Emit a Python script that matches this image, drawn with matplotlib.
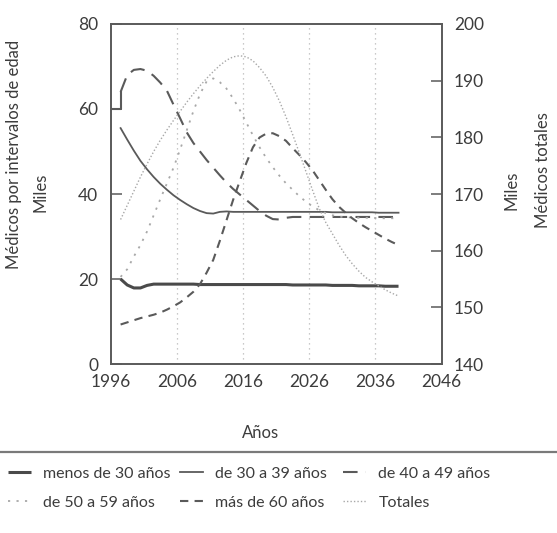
import numpy as np
import matplotlib
matplotlib.use("Agg")
import matplotlib.pyplot as plt
from matplotlib.lines import Line2D

plt.rcParams['font.family'] = ['Lato', 'DejaVu Sans']

# Mid-year projection points, 1997.5 .. 2039.5
years = np.arange(1997.5, 2040.0, 1.0)

menos_30 = [20.0, 18.6, 17.9, 17.9, 18.5, 18.8, 18.8, 18.8, 18.8, 18.8,
            18.8, 18.8, 18.7, 18.7, 18.7, 18.7, 18.7, 18.7, 18.7, 18.7,
            18.7, 18.7, 18.7, 18.7, 18.7, 18.7, 18.6, 18.6, 18.6, 18.6,
            18.6, 18.6, 18.5, 18.5, 18.5, 18.5, 18.4, 18.4, 18.4, 18.4,
            18.3, 18.3, 18.3]

de_30_39 = [55.5, 52.8, 50.2, 47.8, 45.8, 44.0, 42.4, 41.0, 39.7, 38.6,
            37.6, 36.7, 36.0, 35.5, 35.4, 35.8, 35.9, 35.8, 35.8, 35.8,
            35.8, 35.8, 35.8, 35.8, 35.8, 35.8, 35.8, 35.8, 35.8, 35.8,
            35.8, 35.8, 35.7, 35.7, 35.7, 35.7, 35.7, 35.7, 35.7, 35.6,
            35.6, 35.6, 35.6]

# 40-49 starts from the 1996 level before the series begins
de_40_49_inicio_years = [1996.0, 1997.5]
de_40_49_inicio = [60.0, 60.0]
de_40_49 = [64.0, 68.0, 69.2, 69.4, 69.0, 67.8, 66.2, 64.3, 61.0, 57.8,
            54.5, 52.0, 50.0, 48.0, 46.2, 44.4, 42.7, 41.2, 39.9, 38.6,
            37.3, 36.0, 34.9, 34.1, 34.0, 34.4, 34.6, 34.6, 34.6, 34.6,
            34.6, 34.6, 34.6, 34.6, 34.6, 34.6, 34.6, 34.6, 34.6, 34.6,
            34.6, 34.6, 34.6]

de_50_59 = [20.5, 22.3, 25.3, 28.0, 31.2, 35.0, 38.8, 42.5, 46.2, 50.5,
            55.0, 59.5, 63.5, 66.5, 67.2, 66.3, 64.8, 62.5, 59.8, 56.8,
            53.8, 51.0, 48.5, 46.3, 44.3, 42.5, 41.0, 39.5, 38.2, 37.1,
            36.2, 35.5, 35.0, 34.7, 34.5, 34.5, 34.4, 34.4, 34.4, 34.3,
            34.3, 34.3, 34.3]

mas_60 = [9.3, 9.8, 10.3, 10.8, 11.2, 11.6, 12.1, 12.8, 13.6, 14.5,
          15.7, 17.0, 18.8, 21.5, 24.5, 29.0, 33.8, 38.6, 43.0, 47.3,
          51.0, 53.3, 54.2, 54.3, 53.6, 52.5, 50.8, 49.2, 47.5, 45.6,
          43.3, 41.0, 38.8, 37.0, 35.6, 34.3, 33.2, 32.2, 31.3, 30.4,
          29.5, 28.7, 28.0]

totales = [165.5, 168.0, 170.5, 173.0, 175.3, 177.5, 179.5, 181.3, 183.0, 184.6,
           186.2, 187.7, 189.1, 190.4, 191.6, 192.7, 193.6, 194.2, 194.4, 194.2,
           193.5, 192.3, 190.8, 188.8, 186.4, 183.6, 180.5, 177.3, 174.0, 170.7,
           167.5, 165.0, 163.0, 161.0, 159.2, 157.7, 156.4, 155.3, 154.5, 153.8,
           153.1, 152.5, 152.0]

x_ticks = [1996, 2006, 2016, 2026, 2036, 2046]
grid_years = [2006, 2016, 2026, 2036]
left_ticks = [0, 20, 40, 60, 80]
right_ticks = [140, 150, 160, 170, 180, 190, 200]

etiquetas = ["menos de 30 años", "de 30 a 39 años", "de 40 a 49 años",
             "de 50 a 59 años", "más de 60 años", "Totales"]

fig = plt.figure(figsize=(5.57, 5.33), dpi=100)
ax = fig.add_axes([0.1987, 0.317, 0.594, 0.638])
ax2 = ax.twinx()

frame = '#5a5a5a'
txt = '#3c3c3c'

for g in grid_years:
    ax.axvline(g, color='#b8b8b8', lw=0.9, ls=(0, (1, 3)), zorder=0)

l1, = ax.plot(years, menos_30, color='#4a4a4a', lw=2.2, solid_capstyle='butt')
l2, = ax.plot(years, de_30_39, color='#5a5a5a', lw=1.3)
ax.plot(de_40_49_inicio_years + [years[0]], de_40_49_inicio + [de_40_49[0]],
        color='#5a5a5a', lw=1.5)
l3, = ax.plot(years, de_40_49, color='#5a5a5a', lw=1.5, ls=(0, (7, 4)))
l4, = ax.plot(years, de_50_59, color='#a8a8a8', lw=1.3, ls=(0, (1.2, 3.5)))
l5, = ax.plot(years, mas_60, color='#5a5a5a', lw=1.5, ls=(0, (4, 3)))
l6, = ax2.plot(years, totales, color='#a8a8a8', lw=1.0, ls=(0, (1, 1.5)))

ax.set_xlim(1996, 2046)
ax.set_ylim(0, 80)
ax2.set_ylim(140, 200)
ax.set_xticks(x_ticks)
ax.set_yticks(left_ticks)
ax2.set_yticks(right_ticks)

for a in (ax, ax2):
    for s in a.spines.values():
        s.set_color(frame)
        s.set_linewidth(1.2)

ax.tick_params(axis='x', length=0, pad=7, labelsize=12.5, labelcolor=txt)
ax.tick_params(axis='y', direction='in', length=8, width=1.1, color=frame,
               pad=9, labelsize=12.5, labelcolor=txt)
ax2.tick_params(axis='y', direction='in', length=8, width=1.1, color=frame,
                pad=9, labelsize=12.5, labelcolor=txt)

fig.text(0.025, 0.71, "Médicos por intervalos de edad", rotation=90,
         ha='center', va='center', fontsize=12, color=txt)
fig.text(0.072, 0.64, "Miles", rotation=90, ha='center', va='center',
         fontsize=12, color=txt)
fig.text(0.918, 0.643, "Miles", rotation=90, ha='center', va='center',
         fontsize=12, color=txt)
fig.text(0.975, 0.681, "Médicos totales", rotation=90, ha='center',
         va='center', fontsize=12, color=txt)
fig.text(0.467, 0.188, "Años", ha='center', va='center', fontsize=12,
         color=txt)

# separator rule above the key
fig.add_artist(Line2D([0.0, 1.0], [0.152, 0.152], transform=fig.transFigure,
                      color='#7a7a7a', lw=1.6, clip_on=False, zorder=5))

# key, one column at a time
columnas = [([l1, l4], [etiquetas[0], etiquetas[3]], 0.014),
            ([l2, l5], [etiquetas[1], etiquetas[4]], 0.323),
            ([l3, l6], [etiquetas[2], etiquetas[5]], 0.616)]
for handles, labels, x0 in columnas:
    fig.legend(handles, labels, loc='upper left', bbox_to_anchor=(x0, 0.124),
               frameon=False, fontsize=11.5, handlelength=1.45,
               handletextpad=0.75, labelspacing=0.9, borderaxespad=0,
               borderpad=0, labelcolor=txt)

fig.savefig("out.png", dpi=100, facecolor='white')
